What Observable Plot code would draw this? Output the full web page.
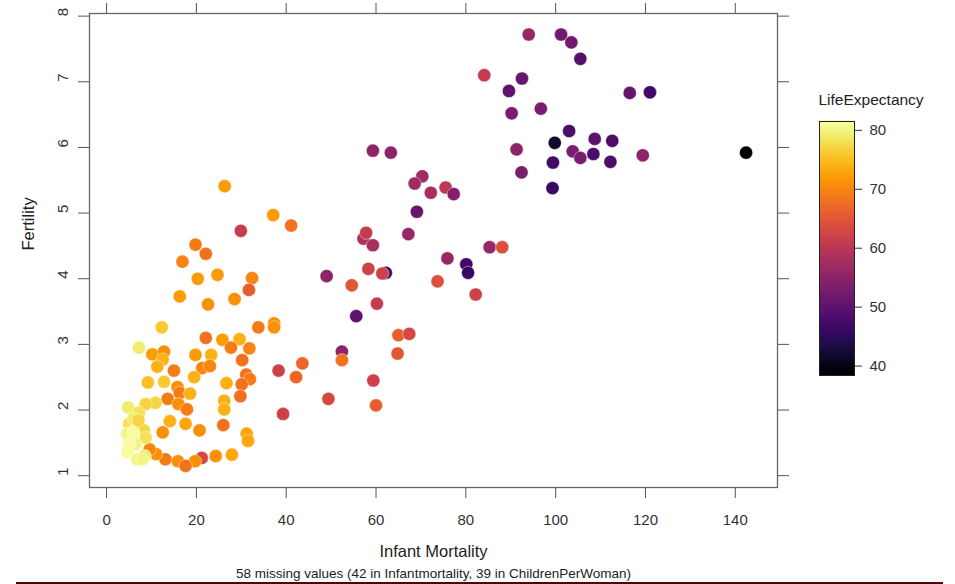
<!DOCTYPE html>
<html>
<head>
<meta charset="utf-8">
<script src="https://cdn.jsdelivr.net/npm/d3@7"></script>
<script src="https://cdn.jsdelivr.net/npm/@observablehq/plot@0.6"></script>
<style>
  html, body { margin: 0; padding: 0; background: #fff; }
  #wrap { position: relative; width: 955px; height: 584px; overflow: hidden; font-family: "Liberation Sans", Arial, sans-serif; }
  #main { position: absolute; left: 0; top: 0; }
  #legend { position: absolute; left: 780px; top: 0; }
  #rule { position: absolute; left: 16px; top: 582px; width: 927px; height: 2px; background: #4a0808; }
</style>
</head>
<body>
<div id="wrap">
  <div id="main"></div>
  <div id="legend"></div>
  <div id="rule"></div>
</div>
<script>
// ---- data ----
const infantMortality = [
  94.0,101.2,103.5,105.5,84.1,92.5,89.6,116.5,121.0,90.2,96.7,103.0,99.8,108.7,112.6,91.3,103.8,105.5,108.4,112.2,119.4,99.4,92.4,99.3,142.4,
  59.3,63.3,70.3,68.6,72.2,75.5,77.3,69.1,67.2,57.2,57.8,59.3,85.3,88.1,75.9,80.1,80.5,58.3,62.2,61.4,73.7,82.2,60.2,49.0,54.6,55.6,65.0,67.4,64.8,52.4,52.4,59.4,49.4,60.0,
  26.3,37.1,41.1,29.9,19.8,22.1,16.9,24.7,20.3,32.4,31.7,16.3,22.6,28.5,33.8,37.3,37.3,12.3,22.1,25.8,29.6,27.7,31.8,19.8,23.3,7.2,10.2,12.8,12.5,11.3,30.2,21.3,23.0,15.0,19.5,31.1,31.9,30.1,38.3,43.6,42.2,39.3,26.7,9.2,12.8,15.8,16.3,18.6,13.6,16.0,17.9,29.8,26.2,26.2,26.0,10.9,8.7,14.1,17.6,20.7,12.5,31.2,31.5,24.3,27.9,21.2,19.7,15.9,17.6,13.1,11.0,9.6,
  4.8,7.2,5.0,6.8,8.3,4.6,8.7,6.5,5.0,4.6,6.8,8.5,8.0,6.0,6.0,7.1
];
const fertility = [
  7.72,7.72,7.60,7.35,7.10,7.05,6.86,6.83,6.84,6.52,6.59,6.25,6.07,6.13,6.10,5.97,5.94,5.84,5.90,5.78,5.88,5.77,5.62,5.38,5.92,
  5.95,5.92,5.56,5.45,5.31,5.39,5.29,5.02,4.68,4.61,4.70,4.51,4.48,4.48,4.31,4.22,4.09,4.15,4.09,4.08,3.96,3.76,3.62,4.04,3.90,3.43,3.14,3.16,2.86,2.89,2.76,2.45,2.17,2.07,
  5.41,4.97,4.81,4.73,4.52,4.38,4.26,4.06,4.00,4.01,3.83,3.73,3.61,3.69,3.26,3.32,3.26,3.26,3.10,3.07,3.08,2.95,2.94,2.84,2.84,2.95,2.85,2.89,2.77,2.66,2.76,2.64,2.67,2.60,2.50,2.54,2.47,2.39,2.60,2.71,2.50,1.94,2.41,2.42,2.43,2.35,2.26,2.25,2.17,2.09,2.01,2.21,2.14,2.01,1.77,2.11,2.09,1.83,1.79,1.69,1.66,1.64,1.53,1.30,1.32,1.27,1.22,1.22,1.15,1.25,1.33,1.40,
  2.04,1.96,1.79,1.74,1.69,1.64,1.58,1.48,1.48,1.36,1.25,1.30,1.25,1.87,1.66,1.84
];
const lifeExpectancy = [
  56,52,52,49,61,51,50,51,47,53,53,48,42,50,48,55,53,53,48,48,55,47,53,46,38.5,
  55,55,57,57,58,60,54,51,56,59,61,58,56,64,56,47,46,62,47,62,64,62,61,55,65,50,66,63,65,55,68,62,63,66,
  72,72,68,61,69,68,70,72,72,70,66,72,71,71,69,71,71,76,68,72,74,69,70,72,74,79,72,71,74,74,68,70,70,69,74,68,69,68,62,67,67,62,74,75,76,71,69,74,69,71,69,68,74,74,68,77,77,74,73,71,71,73,73,71,73,63,71,71,68,69,71,70,
  79,78,78,79,77,80,78,80,81,81,80,79,80,79,81,77
];
const xTicks = [0, 20, 40, 60, 80, 100, 120, 140];
const yTicks = [1, 2, 3, 4, 5, 6, 7, 8];
const legendTicks = [40, 50, 60, 70, 80];
const xLabel = "Infant Mortality";
const yLabel = "Fertility";
const legendTitle = "LifeExpectancy";
const caption = "58 missing values (42 in Infantmortality, 39 in ChildrenPerWoman)";

const data = infantMortality.map((d, i) => ({im: d, fert: fertility[i], le: lifeExpectancy[i]}));
const colorDomain = [38.4, 81.5];
const font = "Liberation Sans, Arial, sans-serif";

const main = Plot.plot({
  width: 955, height: 584,
  marginLeft: 89, marginRight: 178, marginTop: 13, marginBottom: 97,
  style: {fontFamily: font, background: "transparent", color: "#333"},
  x: {domain: [-3.8, 149.4]},
  y: {domain: [0.82, 8.04]},
  color: {type: "sequential", scheme: "inferno", domain: colorDomain},
  marks: [
    Plot.axisX({anchor: "bottom", ticks: xTicks, tickSize: 11, tickFormat: () => "", label: null, stroke: "#555"}),
    Plot.axisX({anchor: "top", ticks: xTicks, tickSize: 11, tickFormat: () => "", label: null, stroke: "#555"}),
    Plot.axisY({anchor: "left", ticks: yTicks, tickSize: 11, tickFormat: () => "", label: null, stroke: "#555"}),
    Plot.axisY({anchor: "right", ticks: yTicks, tickSize: 11, tickFormat: () => "", label: null, stroke: "#555"}),
    Plot.frame({stroke: "#666", strokeWidth: 1.3}),
    Plot.text(xTicks, {x: d => d, frameAnchor: "bottom", lineAnchor: "middle", dy: 33, text: d => String(d), fontSize: 15, fill: "#333"}),
    Plot.text(yTicks, {y: d => d, frameAnchor: "left", lineAnchor: "middle", dx: -26, rotate: -90, text: d => String(d), fontSize: 15, fill: "#333"}),
    Plot.dot(data, {x: "im", y: "fert", fill: "le", r: 6.6, stroke: "white", strokeWidth: 0.6, strokeOpacity: 0.7}),
    Plot.text([xLabel], {frameAnchor: "bottom", lineAnchor: "middle", dy: 64, text: d => d, fontSize: 16.5, fill: "#222"}),
    Plot.text([yLabel], {frameAnchor: "left", lineAnchor: "middle", dx: -61, rotate: -90, text: d => d, fontSize: 16.5, fill: "#222"}),
    Plot.text([caption], {frameAnchor: "bottom", lineAnchor: "middle", dy: 86, text: d => d, fontSize: 13.5, fill: "#222"})
  ]
});
document.getElementById("main").appendChild(main);

// ---- color bar legend ----
const step = (colorDomain[1] - colorDomain[0]) / 200;
const stops = d3.range(colorDomain[0], colorDomain[1], step);
const legend = Plot.plot({
  width: 175, height: 400,
  marginLeft: 39, marginRight: 101, marginTop: 121, marginBottom: 25,
  style: {fontFamily: font, background: "transparent", color: "#333", overflow: "visible"},
  x: {domain: [0, 1], axis: null},
  y: {domain: colorDomain},
  color: {type: "sequential", scheme: "inferno", domain: colorDomain},
  marks: [
    Plot.rect(stops, {x1: 0, x2: 1, y1: d => d, y2: d => d + step * 1.6, fill: d => d + step / 2, shapeRendering: "crispEdges"}),
    Plot.frame({stroke: "#222", strokeWidth: 1}),
    Plot.axisY({anchor: "right", ticks: legendTicks, tickSize: 7, tickPadding: 8, fontSize: 15, label: null, stroke: "#333"}),
    Plot.text([legendTitle], {frameAnchor: "top-left", lineAnchor: "middle", dx: -1, dy: -21, textAnchor: "start", text: d => d, fontSize: 15.5, fill: "#222"})
  ]
});
document.getElementById("legend").appendChild(legend);
</script>
</body>
</html>
